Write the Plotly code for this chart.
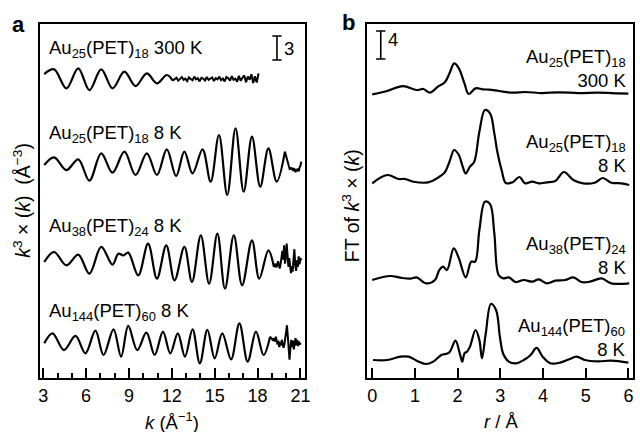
import numpy as np
import plotly.graph_objects as go

# ---------------- panel a: k^3-weighted EXAFS oscillations ----------------
# smooth sections (k in 1/Å, amplitude relative to each trace's baseline)
a1_k = [3.07, 3.76, 4.62, 5.45, 6.23, 7.06, 7.85, 8.68, 9.46, 10.25, 10.96, 11.65, 12.07]
a1_v = [0.62, 1.21, -1.17, 1.33, -1.38, 1.21, -1.17, 0.92, -0.88, 0.71, -0.54, 0.50, -0.20]
a1_tail_v = [-0.05, 0.15, -0.2, 0.1, 0.25, -0.1, 0.05, -0.25, 0.2, 0.0,
             -0.15, 0.3, -0.05, 0.1, -0.3, 0.15, 0.05, -0.2, 0.25, -0.1,
             0.0, 0.2, -0.25, 0.1, -0.05, 0.3, -0.15, 0.05, -0.3, 0.25,
             0.1, -0.2, 0.35, -0.1, 0.05, -0.35, 0.4, -0.2, 0.15, 0.45,
             -0.4, 0.3, -0.1, 0.6, -0.5, 0.35, -0.45, 0.7]
a1_tail_span = (12.2, 18.07)

a2_k = [3.07, 3.76, 4.62, 5.45, 6.23, 7.06, 7.85, 8.68, 9.46, 10.25, 10.96, 11.65, 12.30,
        12.88, 13.45, 14.15, 14.72, 15.30, 15.88, 16.46, 17.03, 17.61, 18.19, 18.76, 19.34, 19.92]
a2_v = [0.0, 0.96, -0.63, 0.71, -1.96, 1.46, -0.96, 1.67, -1.25, 1.46, -1.25, 1.96, -1.38,
        1.67, -1.04, 1.96, -2.08, 3.75, -3.75, 4.58, -3.33, 3.54, -2.71, 2.08, -2.08, 1.67]
a2_tail_v = [-0.6, -0.3, -0.55, -0.35, -0.75, -0.4, -0.6, -0.9, -0.5, -0.75, -0.45, -0.8, -0.3, -0.1, 0.4]
a2_tail_span = (20.26, 21.06)

a3_k = [3.07, 3.76, 4.62, 5.45, 6.23, 7.06, 7.85, 8.26, 8.61, 8.95, 9.65, 10.34, 10.96, 11.61,
        12.19, 12.88, 13.41, 14.03, 14.61, 15.19, 15.72, 16.34, 16.92, 17.61, 18.12, 18.76, 19.15]
a3_v = [0.0, 1.25, -0.42, 0.92, -1.46, 1.88, -0.33, 1.04, 0.83, 1.17, -1.67, 2.29, -2.08, 2.08,
        -2.29, 1.88, -2.50, 3.33, -2.71, 3.54, -3.33, 3.33, -2.92, 2.71, -2.08, 1.46, -0.63]
a3_tail_v = [-0.5, -0.2, -0.7, -0.3, 0.1, -0.4, -0.8, -0.2, 0.4, 1.4, 0.3, 2.1, -0.2, 0.6, 2.3, 0.2,
             -0.6, 0.5, -0.9, -1.4, -0.5, -1.2, 0.3, 1.6, -0.4, -1.1, 0.2, -0.6, 0.7, -0.3, 0.5, 0.2]
a3_tail_span = (19.2, 21.06)

a4_k = [3.07, 3.65, 4.45, 5.26, 5.95, 6.65, 7.22, 7.92, 8.45, 8.95, 9.58, 10.22, 10.80, 11.38,
        11.89, 12.42, 12.92, 13.45, 13.96, 14.49, 15.00, 15.53, 16.15, 16.73, 17.31, 17.89, 18.42, 18.88]
a4_v = [-0.04, 1.21, -0.88, 0.88, -1.29, 1.54, -1.50, 1.71, -1.71, 2.13, -0.88, 1.29, -1.50, 1.42,
        -1.29, 1.21, -1.71, 1.71, -2.54, 1.63, -1.92, 1.21, -2.04, 2.46, -2.33, 1.42, -1.50, 0.79]
a4_tail_v = [0.3, 0.6, 0.2, 0.8, 0.4, -0.2, 0.3, -0.5, 0.1, -0.3, 0.4, 0.0, -0.6, -0.2, 0.5, 0.9,
             2.2, 0.8, -1.3, -2.1, -0.6, 0.4, -0.5, 0.3, -0.8, 0.2, 0.6, -0.3, 0.4, -0.4, 0.2, -0.2, 0.0]
a4_tail_span = (19.1, 21.02)

a_labels = ["Au<sub>25</sub>(PET)<sub>18</sub> 300 K", "Au<sub>25</sub>(PET)<sub>18</sub> 8 K",
            "Au<sub>38</sub>(PET)<sub>24</sub> 8 K", "Au<sub>144</sub>(PET)<sub>60</sub> 8 K"]
a_scale = 3
a_ticks = [3, 6, 9, 12, 15, 18, 21]

# ---------------- panel b: Fourier transforms (r in Å) ----------------
b1_r = [0.0, 0.35, 0.72, 1.04, 1.20, 1.35, 1.54, 1.70, 1.81, 1.92, 2.03, 2.16, 2.26, 2.42, 2.59,
        2.74, 2.97, 3.28, 3.59, 3.98, 4.36, 4.83, 5.29, 5.75, 6.0]
b1_v = [0.33, 0.81, 1.52, 0.95, 1.10, 0.57, 1.43, 2.05, 3.33, 4.76, 4.05, 1.90, 0.38, 1.19, 1.05,
        1.0, 0.81, 0.57, 0.67, 0.52, 0.62, 0.52, 0.57, 0.48, 0.43]

b2_r = [0.0, 0.35, 0.62, 0.77, 0.97, 1.31, 1.54, 1.70, 1.81, 1.92, 2.03, 2.12, 2.19, 2.29, 2.39,
        2.51, 2.64, 2.76, 2.86, 2.93, 3.03, 3.13, 3.28, 3.45, 3.58, 3.75, 3.90, 4.09, 4.29, 4.49,
        4.71, 4.94, 5.21, 5.40, 5.60, 5.83, 6.02]
b2_v = [0.48, 1.67, 1.10, 1.10, 0.71, 0.62, 1.29, 2.05, 3.57, 5.24, 4.52, 2.86, 1.90, 2.86, 3.57,
        7.86, 10.95, 10.48, 7.62, 5.0, 2.38, 0.52, 0.62, 1.38, 0.48, 0.71, 0.48, 0.62, 0.81, 2.10,
        0.95, 0.48, 0.57, 1.24, 0.57, 0.48, 0.24]

b3_r = [0.0, 0.42, 0.66, 0.89, 1.04, 1.26, 1.47, 1.57, 1.66, 1.75, 1.91, 2.03, 2.19, 2.32, 2.41,
        2.51, 2.64, 2.76, 2.86, 2.96, 3.07, 3.20, 3.36, 3.55, 3.75, 3.90, 4.09, 4.29, 4.52, 4.71,
        4.90, 5.10, 5.37, 5.60, 6.02]
b3_v = [0.48, 1.05, 0.81, 0.67, 0.86, 0.0, 0.48, 1.90, 2.38, 1.90, 5.0, 3.57, 0.86, 3.10, 3.10,
        7.62, 11.67, 11.33, 7.14, 1.19, 0.71, 0.86, 0.19, 0.48, 0.24, 0.57, 0.0, 0.38, 0.48, 0.86,
        0.19, 0.24, 0.71, 0.0, 0.0]

b4_r = [0.02, 0.35, 0.66, 0.85, 1.04, 1.25, 1.43, 1.62, 1.80, 1.95, 2.05, 2.11, 2.16, 2.22, 2.29,
        2.42, 2.51, 2.57, 2.66, 2.78, 2.90, 2.99, 3.07, 3.20, 3.37, 3.55, 3.71, 3.85, 3.99, 4.17,
        4.40, 4.61, 4.79, 4.98, 5.29, 5.60, 6.00]
b4_v = [0.71, 0.71, 1.19, 1.19, 0.62, 0.14, 0.48, 1.43, 1.76, 3.48, 1.67, 0.48, 1.67, 1.90, 2.62,
        5.0, 3.57, 0.95, 4.52, 8.71, 7.86, 4.05, 1.57, 0.48, 0.24, 0.71, 1.43, 2.43, 1.19, 0.24,
        0.33, 0.81, 1.19, 0.71, 0.52, 0.62, 0.33]

b_labels = ["Au<sub>25</sub>(PET)<sub>18</sub><br>300 K", "Au<sub>25</sub>(PET)<sub>18</sub><br>8 K",
            "Au<sub>38</sub>(PET)<sub>24</sub><br>8 K", "Au<sub>144</sub>(PET)<sub>60</sub><br>8 K"]
b_scale = 4
b_ticks = [0, 1, 2, 3, 4, 5, 6]

# ---------------- layout constants (pixels on a 640 x 432 canvas) ----------------
W, H = 640, 432
FONT = "Liberation Sans, Arial, Helvetica, sans-serif"
TOP, BOTTOM = 24, 378
A_LEFT, A_RIGHT = 38.3, 306.7
B_LEFT, B_RIGHT = 369.0, 638.3
A_PX_PER_UNIT, B_PX_PER_UNIT = 8.0, 7.0
a_offsets = [37.375, 26.625, 14.5, 4.375]
b_offsets = [40.19, 27.33, 13.52, 1.86]
LINE = dict(color="black", width=2.2)
LABEL_SIZE = 18.5


def px(x, y):
    return x / W, 1 - y / H


fig = go.Figure()

# panel a traces: smooth part + noisy high-k tail
a_sets = [(a1_k, a1_v, a1_tail_v, a1_tail_span), (a2_k, a2_v, a2_tail_v, a2_tail_span),
          (a3_k, a3_v, a3_tail_v, a3_tail_span), (a4_k, a4_v, a4_tail_v, a4_tail_span)]
for (k, v, tv, span), off in zip(a_sets, a_offsets):
    tk = np.linspace(span[0], span[1], len(tv))
    fig.add_trace(go.Scatter(x=k, y=np.array(v) + off, mode="lines", line=dict(LINE, shape="spline", smoothing=1.0),
                             xaxis="x", yaxis="y", showlegend=False, hoverinfo="skip"))
    fig.add_trace(go.Scatter(x=np.r_[k[-1], tk], y=np.r_[v[-1], tv] + off, mode="lines",
                             line=dict(color="black", width=2.0), xaxis="x", yaxis="y",
                             showlegend=False, hoverinfo="skip"))

b_sets = [(b1_r, b1_v), (b2_r, b2_v), (b3_r, b3_v), (b4_r, b4_v)]
for (r, v), off in zip(b_sets, b_offsets):
    fig.add_trace(go.Scatter(x=r, y=np.array(v) + off, mode="lines", line=dict(LINE, shape="spline", smoothing=1.0),
                             xaxis="x2", yaxis="y2", showlegend=False, hoverinfo="skip"))

# scale bars
a_bar_x, a_bar_y0 = 19.36, 39.75
b_bar_x, b_bar_y0 = 0.20, 45.57
shapes = []
for xr, yr, xb, y0, L, hw in [("x", "y", a_bar_x, a_bar_y0, a_scale, 0.33), ("x2", "y2", b_bar_x, b_bar_y0, b_scale, 0.11)]:
    shapes.append(dict(type="line", xref=xr, yref=yr, x0=xb, x1=xb, y0=y0, y1=y0 + L, line=dict(color="black", width=1.6)))
    for yy in (y0, y0 + L):
        shapes.append(dict(type="line", xref=xr, yref=yr, x0=xb - hw, x1=xb + hw, y0=yy, y1=yy,
                           line=dict(color="black", width=1.6)))

ann = []
def add_text(x, y, text, size=LABEL_SIZE, xanchor="left", textangle=0, align="left"):
    xx, yy = px(x, y)
    ann.append(dict(x=xx, y=yy, xref="paper", yref="paper", text=text, showarrow=False,
                    xanchor=xanchor, yanchor="middle", textangle=textangle, align=align,
                    font=dict(family=FONT, size=size, color="black")))

# panel a labels
for text, y in zip(a_labels, [49, 134, 227, 312]):
    add_text(46, y, text)
add_text(283, 48, str(a_scale))
# panel b labels
for text, y in zip(b_labels, [68, 153, 255, 337]):
    add_text(633, y, text, xanchor="right", align="right")
add_text(388, 40, str(b_scale))

# axis titles and panel letters
add_text(172, 421, "<i>k</i> (Å<sup>−1</sup>)", xanchor="center")
add_text(505, 421, "<i>r</i> / Å", xanchor="center")
add_text(20, 200, "<i>k</i><sup>3</sup> × (<i>k</i>)  (Å<sup>−3</sup>)", size=19.5, xanchor="center", textangle=-90)
add_text(353, 206, "FT of <i>k</i><sup>3</sup> × (<i>k</i>)", size=19.5, xanchor="center", textangle=-90)
add_text(17, 24, "<b>a</b>", size=22, xanchor="center")
add_text(350, 23, "<b>b</b>", size=22, xanchor="center")

ydom = [1 - BOTTOM / H, 1 - TOP / H]
common_x = dict(ticks="inside", ticklen=10, tickwidth=2, tickcolor="black", showline=True, linewidth=2,
                linecolor="black", mirror=True, showgrid=False, zeroline=False,
                tickfont=dict(family=FONT, size=18, color="black"))
common_y = dict(domain=ydom, showticklabels=False, ticks="", showline=True, linewidth=2, linecolor="black",
                mirror=True, showgrid=False, zeroline=False)

a_left_k = 3 + (A_LEFT - 41.7) / 14.444
a_right_k = 3 + (A_RIGHT - 41.7) / 14.444
b_left_r = (B_LEFT - 374.3) / 43.17
b_right_r = (B_RIGHT - 374.3) / 43.17

fig.update_layout(
    width=W, height=H, margin=dict(l=0, r=0, t=0, b=0),
    paper_bgcolor="white", plot_bgcolor="white",
    xaxis=dict(common_x, domain=[A_LEFT / W, A_RIGHT / W], range=[a_left_k, a_right_k], tickvals=a_ticks,
               minor=dict(dtick=1, tick0=3, ticks="inside", ticklen=5, tickwidth=2, tickcolor="black"),
               anchor="y"),
    yaxis=dict(common_y, range=[0, (BOTTOM - TOP) / A_PX_PER_UNIT], anchor="x"),
    xaxis2=dict(common_x, domain=[B_LEFT / W, B_RIGHT / W], range=[b_left_r, b_right_r], tickvals=b_ticks,
                anchor="y2"),
    yaxis2=dict(common_y, range=[0, (BOTTOM - TOP) / B_PX_PER_UNIT], anchor="x2"),
    shapes=shapes, annotations=ann,
)

fig.write_html("out.html")
